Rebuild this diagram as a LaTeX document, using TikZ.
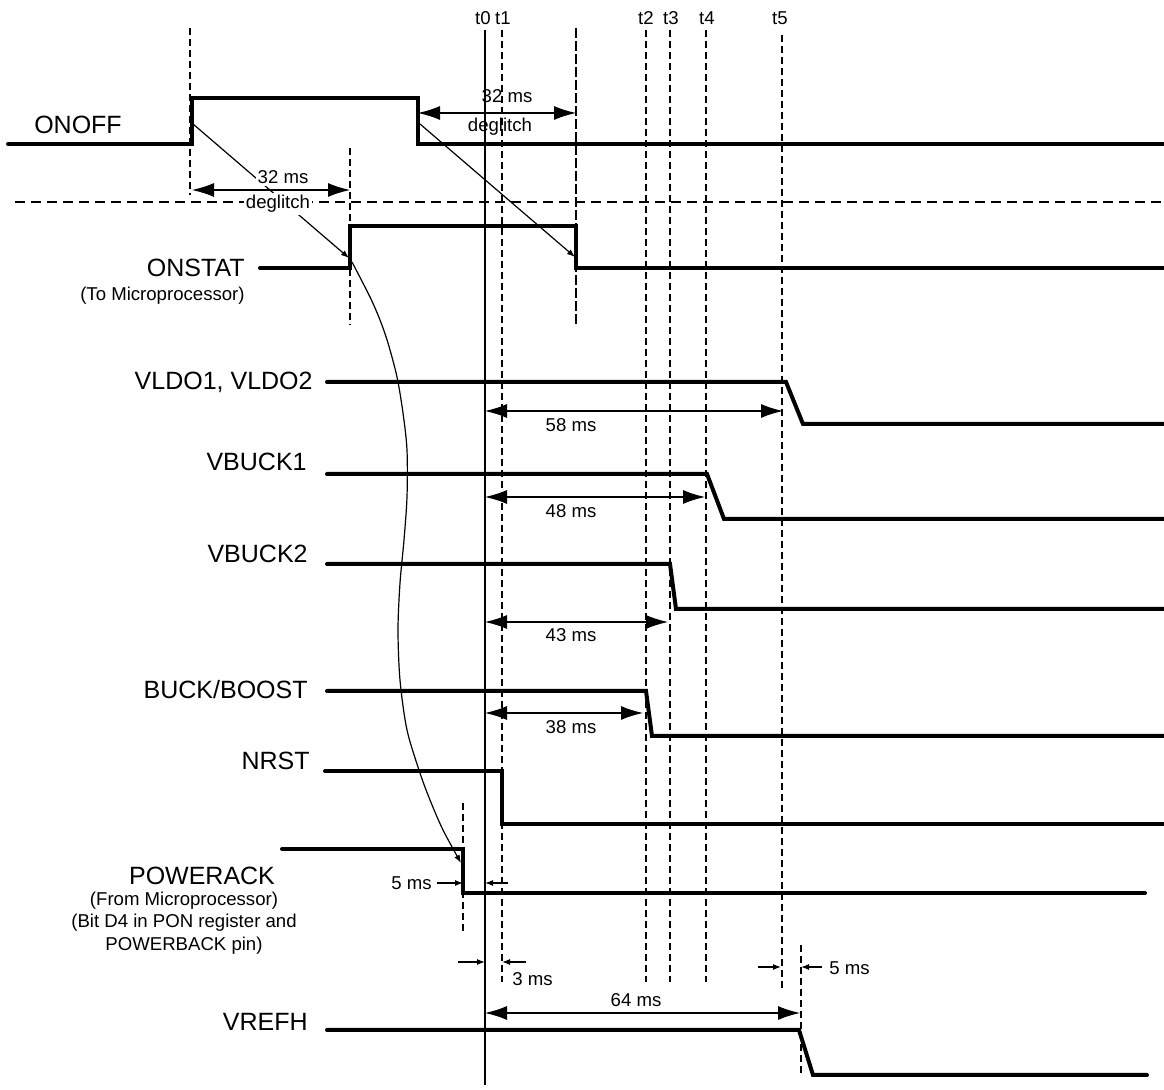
\documentclass[tikz,border=0pt]{standalone}
\usepackage{fontspec}
\setmainfont{Liberation Sans}
\usetikzlibrary{arrows.meta}
\begin{document}
\begin{tikzpicture}[x=0.5pt,y=-0.5pt,
  sig/.style={line width=2pt,line cap=round,line join=miter},
  thinline/.style={line width=0.6pt},
  vdash/.style={line width=0.6pt,dash pattern=on 3.5pt off 2pt},
  vdashlong/.style={line width=0.6pt,dash pattern=on 5pt off 1.5pt},
  hdash/.style={line width=1pt,dash pattern=on 5pt off 3pt},
  dimarrow/.style={line width=0.6pt,{Latex[length=11pt,width=7pt]}-{Latex[length=11pt,width=7pt]}},
  smallarrow/.style={line width=0.6pt,-{Latex[length=4pt,width=3pt]}},
  biglabel/.style={inner sep=0pt,font=\fontsize{12.5}{15}\selectfont},
  smalllabel/.style={inner sep=0pt,font=\fontsize{9.3}{11.25}\selectfont},
  whitelabel/.style={smalllabel,fill=white,inner sep=1pt}]
\useasboundingbox (0,0) rectangle (1164,1090);

% ---- time markers ----
\foreach \n/\x in {t0/483,t1/503,t2/646,t3/671,t4/707,t5/780}
  \node[smalllabel] (lab\n) at (\x,18) {\n};
\coordinate (t0top) at (485,30);  \coordinate (t0bot) at (485,1085);
\draw[line width=1pt] (t0top) -- (t0bot);
\draw[vdash] (502,30) -- (502,982);
\draw[vdash] (646,30) -- (646,982);
\draw[vdash] (670,30) -- (670,982);
\draw[vdash] (706,30) -- (706,982);
\draw[vdash] (782,35) -- (782,989);

% ---- other dashed guides ----
\draw[vdash] (190,28) -- (190,195);
\draw[vdash] (350,148) -- (350,325);
\draw[vdashlong] (576,28) -- (576,327);
\draw[hdash] (15,202) -- (1164,202);
\draw[vdash] (463,803) -- (463,934);
\draw[vdash] (801,945) -- (801,1075);

% ---- ONOFF ----
\node[biglabel] (onoff) at (78,125) {ONOFF};
\draw[sig] (8,144) -- (192,144) -- (192,98) -- (418,98) -- (418,144) -- (1164,144);

% ---- ONSTAT ----
\node[biglabel,anchor=east] (onstat) at (245,268) {ONSTAT};
\node[smalllabel,anchor=east] (onstatsub) at (245,296) {(To Microprocessor)};
\draw[sig] (260,268) -- (350,268) -- (350,226) -- (576,226) -- (576,268) -- (1164,268);

% diagonal arrows ONOFF -> ONSTAT
\coordinate (onrise) at (193,124);  \coordinate (onstrise) at (349,258);
\coordinate (offfall) at (420,124); \coordinate (onstfall) at (575,257);
\draw[smallarrow] (onrise) -- (onstrise);
\draw[smallarrow] (offfall) -- (onstfall);

% deglitch dimensions
\coordinate (dg1a) at (192,190); \coordinate (dg1b) at (350,190);
\draw[dimarrow] (dg1a) -- (dg1b);
\node[whitelabel] (dg1ms) at (283,177) {32 ms};
\node[whitelabel] (dg1t) at (278,204) {deglitch};
\coordinate (dg2a) at (418,113); \coordinate (dg2b) at (576,113);
\draw[dimarrow] (dg2a) -- (dg2b);
\node[smalllabel] (dg2ms) at (507,96) {32 ms};
\node[smalllabel] (dg2t) at (500,127) {deglitch};

% ---- VLDO ----
\node[biglabel,anchor=east] (vldo) at (313,382) {VLDO1, VLDO2};
\draw[sig] (327,382) -- (786,382) -- (803,424) -- (1164,424);
\coordinate (a58a) at (485,411); \coordinate (a58b) at (783,411);
\draw[dimarrow] (a58a) -- (a58b);
\node[smalllabel] (l58) at (571,425) {58 ms};

% ---- VBUCK1 ----
\node[biglabel,anchor=east] (vbuck1) at (307,462) {VBUCK1};
\draw[sig] (327,474) -- (707,474) -- (724,519) -- (1164,519);
\coordinate (a48a) at (485,497); \coordinate (a48b) at (705,497);
\draw[dimarrow] (a48a) -- (a48b);
\node[smalllabel] (l48) at (571,511) {48 ms};

% ---- VBUCK2 ----
\node[biglabel,anchor=east] (vbuck2) at (308,554) {VBUCK2};
\draw[sig] (327,564) -- (670,564) -- (676,609) -- (1164,609);
\coordinate (a43a) at (485,622); \coordinate (a43b) at (668,622);
\draw[dimarrow] (a43a) -- (a43b);
\node[smalllabel] (l43) at (571,635) {43 ms};

% ---- BUCK/BOOST ----
\node[biglabel,anchor=east] (bb) at (308,690) {BUCK/BOOST};
\draw[sig] (327,691) -- (646,691) -- (652,736) -- (1164,736);
\coordinate (a38a) at (485,713); \coordinate (a38b) at (643,713);
\draw[dimarrow] (a38a) -- (a38b);
\node[smalllabel] (l38) at (571,727) {38 ms};

% ---- NRST ----
\node[biglabel,anchor=east] (nrst) at (310,761) {NRST};
\draw[sig] (325,771) -- (502,771) -- (502,824) -- (1164,824);

% ---- POWERACK ----
\node[biglabel] (pack) at (202,876) {POWERACK};
\node[smalllabel,align=center] (packsub) at (184,923) {(From Microprocessor)\\(Bit D4 in PON register and\\POWERBACK pin)};
\draw[sig] (282,849) -- (463,849) -- (463,893) -- (1145,893);

% curve ONSTAT -> POWERACK
\coordinate (cstart) at (352,262);
\coordinate (cend) at (461,863);
\draw[thinline,-{Latex[length=4pt,width=3pt]}] plot[smooth,tension=0.5] coordinates {
  (cstart) (370,297) (380,320) (388,343) (397,377) (403,413) (407,450) (407,497)
  (404,540) (400,583) (398,630) (400,680) (407,730) (420,773) (430,800) (443,830) (cend)};

% 5 ms (POWERACK)
\node[smalllabel,anchor=east] (l5a) at (432,883) {5 ms};
\coordinate (p5a) at (437,883); \coordinate (p5b) at (463,883);
\coordinate (p5c) at (508,883); \coordinate (p5d) at (485,883);
\draw[smallarrow] (p5a) -- (p5b);
\draw[smallarrow] (p5c) -- (p5d);

% 3 ms
\coordinate (p3a) at (458,962); \coordinate (p3b) at (485,962);
\coordinate (p3c) at (526,962); \coordinate (p3d) at (502,962);
\draw[smallarrow] (p3a) -- (p3b);
\draw[smallarrow] (p3c) -- (p3d);
\node[smalllabel,anchor=west] (l3) at (512,979) {3 ms};

% 5 ms (VREFH)
\coordinate (q5a) at (758,967); \coordinate (q5b) at (781,967);
\coordinate (q5c) at (822,967); \coordinate (q5d) at (801,967);
\draw[smallarrow] (q5a) -- (q5b);
\draw[smallarrow] (q5c) -- (q5d);
\node[smalllabel,anchor=west] (l5b) at (829,968) {5 ms};

% ---- VREFH ----
\coordinate (a64a) at (485,1013); \coordinate (a64b) at (800,1013);
\draw[dimarrow] (a64a) -- (a64b);
\node[smalllabel] (l64) at (636,1000) {64 ms};
\node[biglabel,anchor=east] (vrefh) at (308,1022) {VREFH};
\draw[sig] (327,1030) -- (799,1030) -- (813,1075) -- (1147,1075);
\end{tikzpicture}
\end{document}
